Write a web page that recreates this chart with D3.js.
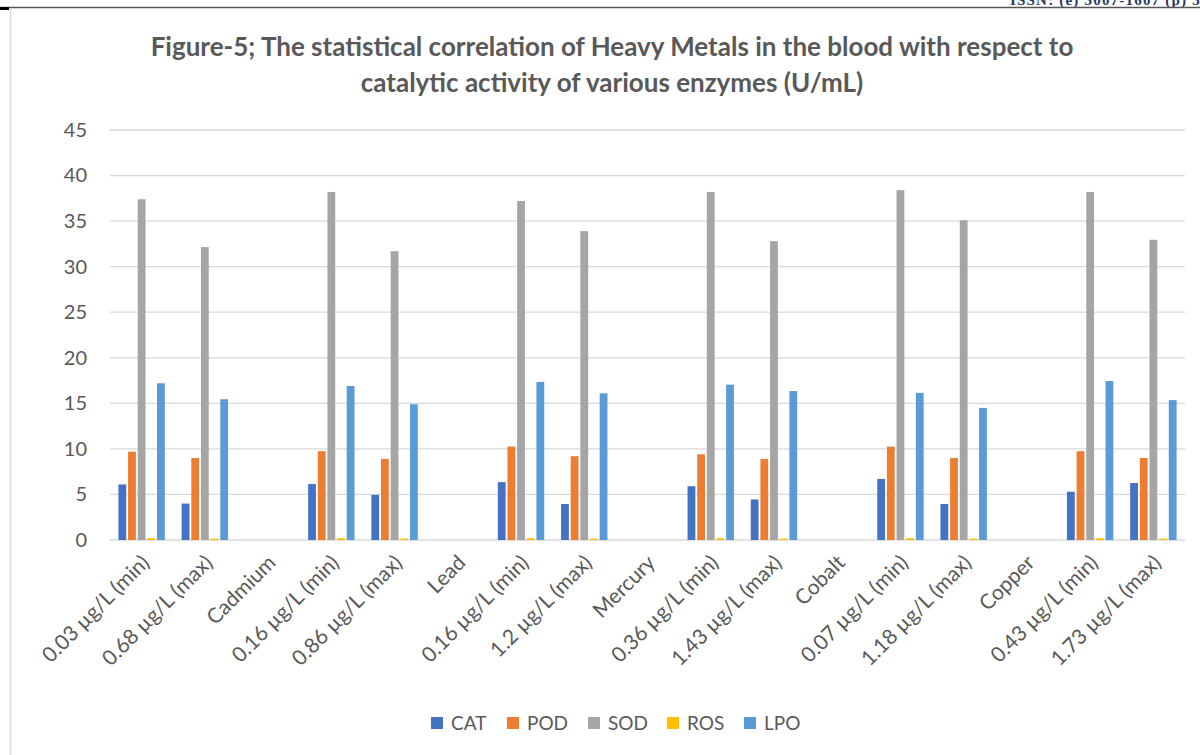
<!DOCTYPE html>
<html><head><meta charset="utf-8">
<script src="https://cdn.jsdelivr.net/npm/d3@7/dist/d3.min.js"></script>
<style>body{margin:0;background:#fff;}svg{display:block;}</style>
</head><body>
<svg id="c" width="1200" height="755"></svg>
<script>
const categories = ["0.03 µg/L (min)","0.68 µg/L (max)","Cadmium","0.16 µg/L (min)","0.86 µg/L (max)","Lead","0.16 µg/L (min)","1.2 µg/L (max)","Mercury","0.36 µg/L (min)","1.43 µg/L (max)","Cobalt","0.07 µg/L (min)","1.18 µg/L (max)","Copper","0.43 µg/L (min)","1.73 µg/L (max)"];
const seriesNames = ["CAT","POD","SOD","ROS","LPO"];
const CAT = [6.1,4.0,null,6.15,4.95,null,6.35,3.95,null,5.9,4.45,null,6.7,3.95,null,5.3,6.25];
const POD = [9.7,9.0,null,9.75,8.9,null,10.25,9.2,null,9.4,8.9,null,10.25,9.0,null,9.75,9.0];
const SOD = [37.4,32.15,null,38.2,31.7,null,37.2,33.9,null,38.2,32.8,null,38.4,35.1,null,38.2,32.95];
const ROS = [0.2,0.15,null,0.2,0.15,null,0.2,0.15,null,0.2,0.15,null,0.2,0.15,null,0.2,0.15];
const LPO = [17.2,15.45,null,16.9,14.9,null,17.35,16.1,null,17.05,16.35,null,16.15,14.5,null,17.45,15.35];
const yTicks = [0,5,10,15,20,25,30,35,40,45];
const colors = ["#4472C4","#ED7D31","#A5A5A5","#FFC000","#5B9BD5"];
const seriesData = [CAT,POD,SOD,ROS,LPO];

const svg = d3.select("#c");
const font = "Lato, 'Open Sans', sans-serif";

// page decoration
svg.append("text").attr("x",1010).attr("y",5).attr("fill","#1F3864")
  .style("font-family","'Liberation Serif', serif").style("font-weight","bold").style("font-size","15px")
  .style("letter-spacing","1.2px")
  .text("ISSN: (e) 3007-1607 (p) 3007-1593");
svg.append("line").attr("x1",0).attr("x2",1200).attr("y1",7.5).attr("y2",7.5).attr("stroke","#555").attr("stroke-width",1.5);
svg.append("rect").attr("x",0).attr("y",7).attr("width",9).attr("height",3).attr("fill","#000");
svg.append("line").attr("x1",10.5).attr("x2",10.5).attr("y1",9).attr("y2",755).attr("stroke","#d9d9d9").attr("stroke-width",1.5);

const x0 = 110, x1 = 1185, yTop = 130, yBot = 540;
const idx = d3.range(categories.length);
const x = d3.scaleBand().domain(idx).range([x0,x1]).paddingInner(0).paddingOuter(0);
const y = d3.scaleLinear().domain([0,45]).range([yBot,yTop]);
const step = 9.65, bw = 7.8;
const xs = d3.scaleBand().domain(seriesNames).range([-step*2.5, step*2.5]);

// gridlines
svg.append("g").selectAll("line").data(yTicks).join("line")
  .attr("x1",x0).attr("x2",x1).attr("y1",d=>y(d)).attr("y2",d=>y(d))
  .attr("stroke","#d9d9d9").attr("stroke-width",1.3);

// y axis labels
const yAxis = d3.axisLeft(y).tickValues(yTicks).tickSize(0).tickPadding(0);
const ga = svg.append("g").attr("transform",`translate(87,0)`).call(yAxis);
ga.select(".domain").remove();
ga.selectAll("text").attr("fill","#595959").style("font-family",font).style("font-size","20px");

// bars
seriesNames.forEach((s,i)=>{
  svg.append("g").selectAll("rect").data(seriesData[i].map((v,j)=>({v,j})).filter(d=>d.v!==null))
    .join("rect")
    .attr("x",d=>x(d.j)+x.bandwidth()/2 + xs(s) + (step-bw)/2)
    .attr("width",bw)
    .attr("y",d=>y(d.v))
    .attr("height",d=>yBot-y(d.v))
    .attr("fill",colors[i]);
});

// x labels
const xl = svg.append("g");
categories.forEach((c,j)=>{
  const cx = x(j)+x.bandwidth()/2;
  xl.append("text").attr("transform",`translate(${cx+9},${564}) rotate(-45)`)
    .attr("text-anchor","end").attr("fill","#595959")
    .style("font-family",font).style("font-size","21px").text(c);
});

// title
const title = svg.append("text").attr("text-anchor","middle").attr("fill","#595959")
  .style("font-family",font).style("font-weight","bold").style("font-size","26px");
title.append("tspan").attr("x",612).attr("y",56).text("Figure-5; The statistical correlation of Heavy Metals in the blood with respect to");
title.append("tspan").attr("x",612).attr("y",92).text("catalytic activity of various enzymes (U/mL)");

// legend
const legX = [431,507,588,667,744];
seriesNames.forEach((s,i)=>{
  svg.append("rect").attr("x",legX[i]).attr("y",717).attr("width",12).attr("height",12).attr("fill",colors[i]);
  svg.append("text").attr("x",legX[i]+20).attr("y",730).attr("fill","#595959")
    .style("font-family",font).style("font-size","19px").text(s);
});
</script>
</body></html>
